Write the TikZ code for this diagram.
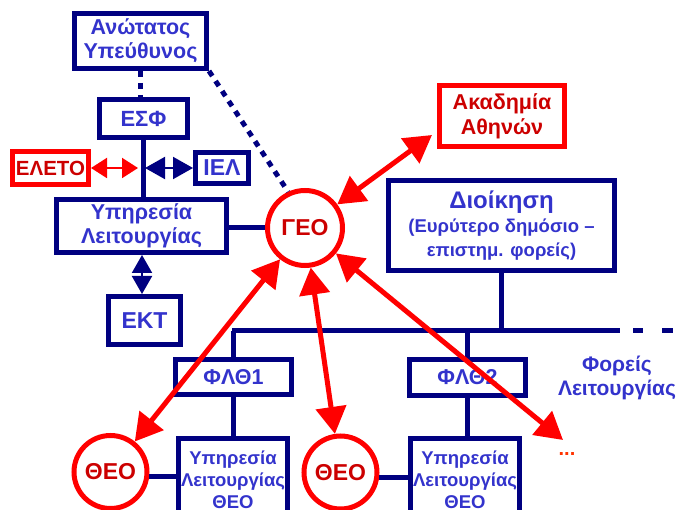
\documentclass[tikz,border=0pt]{standalone}
\usepackage{fontspec}
\setmainfont{Liberation Sans}
\usetikzlibrary{arrows.meta}
\definecolor{navy}{RGB}{0,0,128}
\definecolor{tblue}{RGB}{51,51,204}
\definecolor{tred}{RGB}{204,0,0}
\definecolor{bred}{RGB}{255,0,0}
\definecolor{dotred}{RGB}{255,51,0}
\newcommand{\fsz}[2]{\bfseries\fontsize{#1}{#2}\selectfont}
\begin{document}
\begin{tikzpicture}[x=1pt,y=-1pt,
  bbox/.style={draw=navy, line width=5pt, text=tblue, font=\fsz{21.5}{24}, align=center, inner sep=0pt},
  rbox/.style={draw=bred, line width=5pt, text=tred, font=\fsz{21.5}{25}, align=center, inner sep=0pt},
  rcirc/.style={circle, draw=bred, line width=5pt, text=tred, minimum size=75pt, inner sep=0pt, font=\fsz{23}{27}},
  conn/.style={draw=navy, line width=5pt},
  dotline/.style={draw=navy, line width=5pt, dash pattern=on 6pt off 6pt},
  rarr/.style={draw=bred, line width=5pt, {Triangle[length=27pt,width=30pt]}-{Triangle[length=27pt,width=30pt]}},
  smallr/.style={draw=bred, line width=2pt, {Triangle[length=16pt,width=20pt]}-{Triangle[length=16pt,width=20pt]}},
  smallb/.style={draw=navy, line width=2pt, {Triangle[length=20pt,width=22pt]}-{Triangle[length=20pt,width=22pt]}},
  diam/.style={draw=navy, line width=2pt, {Triangle[length=18pt,width=20pt]}-{Triangle[length=18pt,width=20pt]}},
]
\useasboundingbox (0,0) rectangle (678,510);
\clip (0,0) rectangle (678,510);

% nodes
\node[bbox, minimum width=132pt, minimum height=55pt] (top) at (140.5,41) {Ανώτατος\\Υπεύθυνος};
\node[bbox, minimum width=88pt, minimum height=38pt, font=\fsz{22}{26}] (esf) at (143.5,118.5) {ΕΣΦ};
\node[rbox, minimum width=76pt, minimum height=33pt, font=\fsz{20.5}{25}] (eleto) at (50.5,168) {ΕΛΕΤΟ};
\node[bbox, minimum width=53pt, minimum height=31pt, font=\fsz{23}{27}] (iel) at (222,168) {ΙΕΛ};
\node[bbox, minimum width=170pt, minimum height=53pt] (yl) at (141.5,226) {Υπηρεσία\\Λειτουργίας};
\node[bbox, minimum width=72pt, minimum height=48pt, font=\fsz{23}{27}] (ekt) at (144.5,320.5) {ΕΚΤ};
\node[rcirc] (geo) at (305,228) {ΓΕΟ};
\node[rbox, minimum width=125pt, minimum height=61pt] (akad) at (502,116) {Ακαδημία\\Αθηνών};
\node[bbox, minimum width=226pt, minimum height=90pt] (dioik) at (501.5,225.5)
  {{\fsz{24}{26}Διοίκηση}\\\fsz{18.5}{22}(Ευρύτερο δημόσιο –\\\fsz{18.5}{22}επιστημ. φορείς)};
\node[bbox, minimum width=116pt, minimum height=35pt] (flth1) at (233.5,377) {ΦΛΘ1};
\node[bbox, minimum width=116pt, minimum height=36pt] (flth2) at (467.5,377.5) {ΦΛΘ2};
\node[bbox, minimum width=109pt, minimum height=82pt, font=\fsz{18.5}{22}] (yth1) at (233,480) {Υπηρεσία\\Λειτουργίας\\ΘΕΟ};
\node[bbox, minimum width=109pt, minimum height=82pt, font=\fsz{18.5}{22}] (yth2) at (465,480) {Υπηρεσία\\Λειτουργίας\\ΘΕΟ};
\node[rcirc, minimum size=73pt] (theo1) at (110.5,472) {ΘΕΟ};
\node[rcirc, minimum size=73pt] (theo2) at (340.5,472.5) {ΘΕΟ};
\node[text=tblue, font=\fsz{21}{24}, align=center] (foreis) at (617,378) {Φορείς\\Λειτουργίας};
\node[text=dotred, font=\fsz{20}{24}, inner sep=0pt] (dots) at (567,454) {...};

% coordinates
\coordinate (junc) at (142,168);
\coordinate (busL) at (232,331);
\coordinate (busR) at (597,331);
\coordinate (busE) at (673,331);
\coordinate (akadtip) at (432,135);
\coordinate (dotsend) at (563,440);

% blue connectors
\draw[dotline] (top.south) -- (top.south |- esf.north);
\draw[dotline] (top.south east) -- (geo.115);
\draw[conn] (esf.south) -- (esf.south |- yl.north);
\draw[conn] (geo.west) -- (geo.west -| yl.east);
\draw[diam] (yl.south -| 142,0) -- (ekt.north -| 142,0);
\draw[smallr] (eleto.east) -- ([xshift=-4pt]junc);
\draw[smallb] ([xshift=3pt]junc) -- (iel.west);
\draw[conn] (busL) -- (busR);
\draw[conn, dash pattern=on 23pt off 13pt on 10pt off 19pt on 11pt] (busR) -- (busE);
\draw[conn] (dioik.south) -- (dioik.south |- busL);
\draw[conn] (flth1.north) -- (flth1.north |- busL);
\draw[conn] (flth2.north) -- (flth2.north |- busL);
\draw[conn] (flth1.south) -- (flth1.south |- yth1.north);
\draw[conn] (flth2.south) -- (flth2.south |- yth2.north);
\draw[conn] (theo1.-7) -- (yth1.west |- theo1.-7);
\draw[conn] (theo2.-7) -- (yth2.west |- theo2.-7);

% red arrows
\draw[rarr] (geo) -- (akadtip);
\draw[rarr] (geo) -- (theo1);
\draw[rarr] (geo) -- (theo2);
\draw[rarr] (geo) -- (dotsend);
\end{tikzpicture}
\end{document}
